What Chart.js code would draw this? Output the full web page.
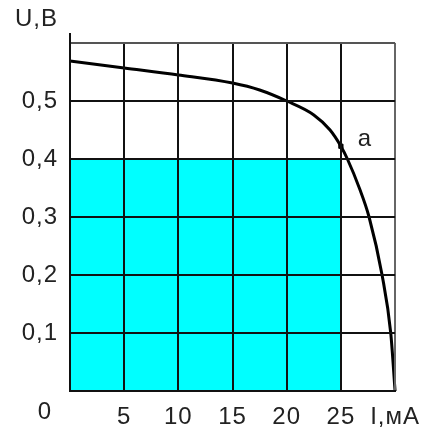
<!DOCTYPE html>
<html>
<head>
<meta charset="utf-8">
<script src="https://cdn.jsdelivr.net/npm/chart.js@4"></script>
<style>
  html, body { margin: 0; padding: 0; background: #fff; }
  #wrap { width: 430px; height: 432px; }
</style>
</head>
<body>
<div id="wrap"><canvas id="ivChart" width="430" height="432"></canvas></div>
<script>
// curve: current in mA, voltage in V
const current = [0, 5, 10, 15, 17.5, 20, 22.5, 24, 25, 25.6, 26.7, 27.6, 28.8, 29.6, 30];
const voltage = [0.569, 0.557, 0.545, 0.531, 0.519, 0.5, 0.476, 0.45, 0.422, 0.4, 0.35, 0.3, 0.2, 0.1, 0];
// shaded rectangle corner and working point "a"
const rectI = 25, rectU = 0.4;
const pointA = { x: 25, y: 0.422 };
const xTicks = { 5: "5", 10: "10", 15: "15", 20: "20", 25: "25", 30: "I,мА" };
const yTicks = ["0,1", "0,2", "0,3", "0,4", "0,5"];

const FONT = "'Liberation Sans', Arial, sans-serif";
const TXT = "#222";

const curvePts = current.map((c, i) => ({ x: c, y: voltage[i] }));

const extras = {
  id: "extras",
  beforeDraw(chart) {
    chart.ctx.letterSpacing = "1px";
  },
  afterDraw(chart) {
    const ctx = chart.ctx;
    const x = chart.scales.x, y = chart.scales.y;
    ctx.save();
    // y axis sticks out above the grid
    ctx.strokeStyle = "#111";
    ctx.lineWidth = 2;
    ctx.beginPath();
    ctx.moveTo(x.getPixelForValue(0), y.getPixelForValue(0.6));
    ctx.lineTo(x.getPixelForValue(0), y.getPixelForValue(0.6) - 10);
    ctx.stroke();

    ctx.fillStyle = TXT;
    ctx.font = "24px " + FONT;
    ctx.textBaseline = "middle";
    ctx.textAlign = "left";
    ctx.fillText("U,В", 15, 19);
    ctx.textAlign = "center";
    ctx.fillText("0", x.getPixelForValue(0) - 25, y.getPixelForValue(0) + 21);
    ctx.fillText("a", x.getPixelForValue(pointA.x) + 24, y.getPixelForValue(pointA.y) - 7);
    ctx.restore();
  }
};

new Chart(document.getElementById("ivChart"), {
  type: "scatter",
  data: {
    datasets: [
      {
        type: "line", data: curvePts, borderColor: "#000", borderWidth: 3,
        pointRadius: 0, cubicInterpolationMode: "monotone", clip: false
      },
      {
        type: "scatter", data: [pointA], pointStyle: "rect", pointRadius: 3,
        backgroundColor: "#000", borderColor: "#000"
      },
      {
        type: "line", data: [{ x: 0, y: rectU }, { x: rectI, y: rectU }],
        borderWidth: 0, pointRadius: 0, fill: "origin", backgroundColor: "#00ffff"
      }
    ]
  },
  options: {
    responsive: false,
    animation: false,
    events: [],
    layout: { padding: { top: 43, right: 32, left: 0, bottom: 0 } },
    plugins: { legend: { display: false }, tooltip: { enabled: false } },
    scales: {
      x: {
        type: "linear", min: 0, max: 30,
        afterFit(s) { s.height = 41; },
        border: { color: "#111", width: 2, z: 1 },
        grid: {
          drawTicks: false, lineWidth: 2, z: 1,
          color: ctx => (ctx.tick && ctx.tick.value === 30 ? "#666" : "#111")
        },
        ticks: {
          stepSize: 5, autoSkip: false, maxRotation: 0, padding: 12, color: TXT,
          font: { size: 24, family: FONT },
          callback: v => xTicks[v] || ""
        }
      },
      y: {
        type: "linear", min: 0, max: 0.6,
        afterFit(s) { s.width = 70; },
        border: { color: "#111", width: 2, z: 1 },
        grid: {
          drawTicks: false, lineWidth: 2, z: 1,
          color: ctx => (ctx.tick && Math.abs(ctx.tick.value - 0.6) < 1e-6 ? "#555" : "#111")
        },
        ticks: {
          stepSize: 0.1, autoSkip: false, padding: 12, color: TXT,
          font: { size: 24, family: FONT },
          callback: (v, i) => yTicks[i - 1] || ""
        }
      }
    }
  },
  plugins: [extras]
});
</script>
</body>
</html>
